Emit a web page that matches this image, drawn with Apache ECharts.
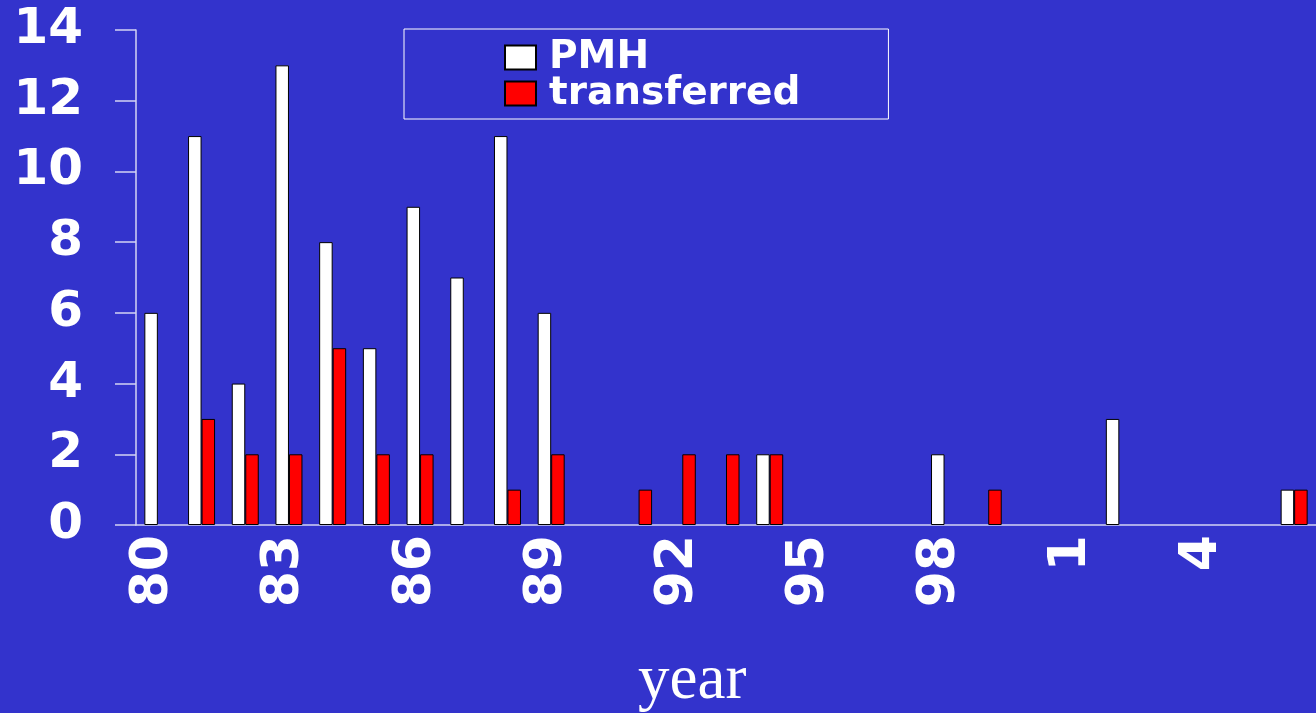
<!DOCTYPE html>
<html>
<head>
<meta charset="utf-8">
<script src="https://cdn.jsdelivr.net/npm/echarts@6/dist/echarts.min.js"></script>
<style>
html,body{margin:0;padding:0;background:#3333CC;}
#chart{width:1316px;height:713px;}
</style>
</head>
<body>
<div id="chart"></div>
<script>
var years = ['80','81','82','83','84','85','86','87','88','89','90','91','92','93','94','95','96','97','98','99','0','1','2','3','4','5','6'];
var pmh =         [6,11,4,13,8,5,9,7,11,6,0,0,0,0,2,0,0,0,2,0,0,0,3,0,0,0,1];
var transferred = [0,3,2,2,5,2,2,0,1,2,0,1,2,2,2,0,0,0,0,1,0,0,0,0,0,0,1];
var yTicks = {min:0, max:14, interval:2};

function hideZero(arr){
  return arr.map(function(v){ return v === 0 ? {value:0, itemStyle:{borderWidth:0, opacity:0}} : v; });
}

var axisColor = '#d4d4f4';
var chart = echarts.init(document.getElementById('chart'), null, {renderer:'canvas'});
chart.setOption({
  backgroundColor:'#3333CC',
  animation:false,
  title:{
    text:'year', left:633, top:645,
    textStyle:{color:'#ffffff', fontFamily:'Liberation Serif', fontWeight:'normal', fontSize:63}
  },
  legend:{
    left:404, top:29, orient:'vertical',
    padding:[9,88,6,100],
    borderColor:'#ffffff', borderWidth:1,
    icon:'rect',
    itemWidth:31, itemHeight:24, itemGap:-3,
    textStyle:{color:'#ffffff', fontFamily:'DejaVu Sans', fontWeight:'bold', fontSize:39, lineHeight:24, padding:[0,0,0,8]},
    data:['PMH','transferred']
  },
  grid:{left:136, top:30, bottom:188, width:1190, containLabel:false},
  xAxis:{
    type:'category', data:years, boundaryGap:true,
    axisLine:{lineStyle:{color:axisColor, width:1.5}},
    axisTick:{interval:0, length:16, lineStyle:{color:axisColor, width:1.5}},
    axisLabel:{interval:2, rotate:90, margin:10, color:'#ffffff', fontFamily:'DejaVu Sans', fontWeight:'bold', fontSize:52,
               verticalAlign:'bottom', lineHeight:8},
    splitLine:{show:false}
  },
  yAxis:{
    type:'value', min:yTicks.min, max:yTicks.max, interval:yTicks.interval,
    axisLine:{show:true, lineStyle:{color:axisColor, width:1.5}},
    axisTick:{show:true, length:21, lineStyle:{color:axisColor, width:1.5}},
    axisLabel:{margin:53, color:'#ffffff', fontFamily:'DejaVu Sans', fontWeight:'bold', fontSize:50},
    splitLine:{show:false}
  },
  series:[
    {name:'PMH', type:'bar', data:hideZero(pmh), barWidth:13.5, barGap:'0%',
     itemStyle:{color:'#ffffff', borderColor:'#000000', borderWidth:1}},
    {name:'transferred', type:'bar', data:hideZero(transferred), barWidth:13.5, barGap:'0%',
     itemStyle:{color:'#ff0000', borderColor:'#000000', borderWidth:1}}
  ]
});
</script>
</body>
</html>
